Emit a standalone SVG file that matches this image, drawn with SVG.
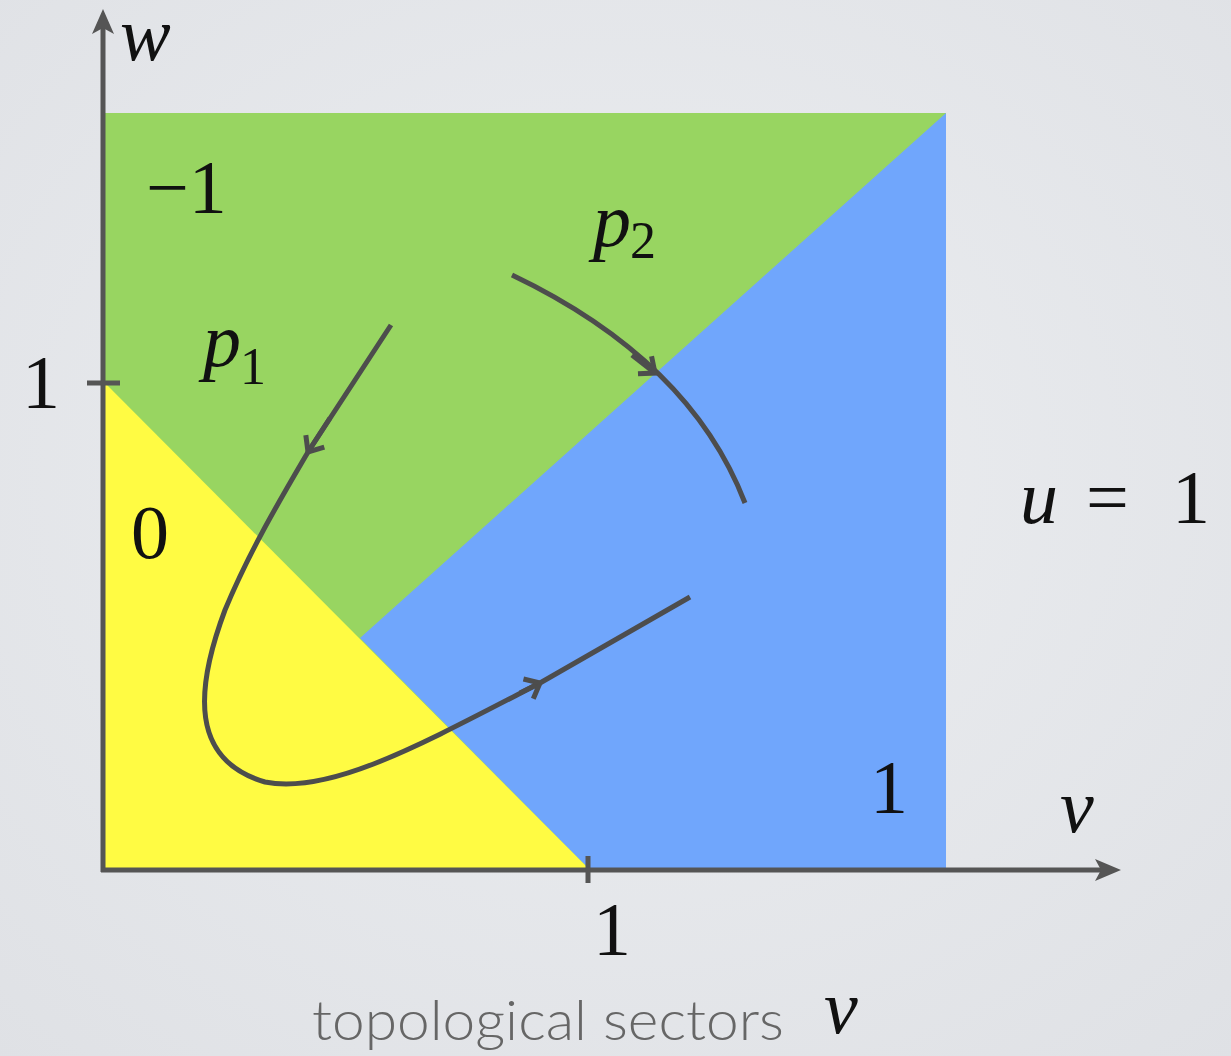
<svg xmlns="http://www.w3.org/2000/svg" width="1231" height="1056" viewBox="0 0 1231 1056">
<defs>
<radialGradient id="bg" cx="0.5" cy="0.45" r="0.75">
<stop offset="0" stop-color="#eceef1"/>
<stop offset="1" stop-color="#dfe1e5"/>
</radialGradient>
<marker id="chev" markerWidth="30" markerHeight="30" refX="15" refY="15" orient="auto" markerUnits="userSpaceOnUse" viewBox="0 0 30 30">
<path d="M2,4 L15,15 L2,26" fill="none" stroke="#4d4d4d" stroke-width="5"/>
</marker>
</defs>
<style>
.m{font-size:76px;fill:#111}
.mi{font-style:italic;font-size:76px;fill:#111}
.sub{font-size:52px;fill:#111}
.ax{stroke:#555;stroke-width:5;fill:none}
.cv{stroke:#4d4d4d;stroke-width:5;fill:none;stroke-linecap:butt}
.cap{font-weight:300;font-size:56px;fill:#666}
</style>
<rect width="1231" height="1056" fill="url(#bg)"/>
<g id="regions">
<rect id="green" x="105" y="113" width="841" height="755" fill="#98d561"/>
<polygon id="blue" points="946,113 946,868 588,868 360,638" fill="#70a6fc"/>
<polygon id="yellow" points="105,383 105,868 588,868" fill="#fffb43"/>
</g>
<g id="axes">
<line class="ax" x1="103" y1="872" x2="103" y2="22"/>
<path d="M103,9 L92,34 L103,28 L114,34 Z" fill="#555"/>
<line class="ax" x1="101" y1="870" x2="1105" y2="870"/>
<path d="M1121,870 L1095,859 L1101,870 L1095,881 Z" fill="#555"/>
<line class="ax" x1="87" y1="383" x2="120" y2="383"/>
<line class="ax" x1="588" y1="856" x2="588" y2="883"/>
</g>
<g id="connectors">
<path class="cv" d="M391,325 L308,452 C 280,500 250,550 225,610 C 195,690 190,760 265,782 C 330,795 420,745 540,683 L 690,597"/>
<path class="cv" d="M512,275 Q 690,360 745,503"/>
<path class="cv" d="M330,418 L308,452" marker-end="url(#chev)"/>
<path class="cv" d="M520,693 L540,683" marker-end="url(#chev)"/>
<path class="cv" d="M632,355 L655,373" marker-end="url(#chev)"/>
</g>
<g id="labels" font-family="'Liberation Serif', 'Times New Roman', 'DejaVu Serif', serif">
<text class="mi" x="120" y="60" font-size="70">w</text>
<text class="m" x="146" y="213">−1</text>
<text class="mi" x="593" y="246">p</text><text class="sub" x="630" y="258">2</text>
<text class="mi" x="203" y="366">p</text><text class="sub" x="240" y="384">1</text>
<text class="m" x="22" y="408">1</text>
<text class="m" x="131" y="558">0</text>
<text class="mi" x="1020" y="523">u</text><text class="m" x="1086" y="523" font-size="84">=</text><text class="m" x="1172" y="523">1</text>
<text class="m" x="870" y="813">1</text>
<text class="mi" x="1060" y="832">v</text>
<text class="m" x="593" y="955">1</text>
<text class="mi" x="824" y="1033">ν</text>
</g>
<g id="caption" font-family="Lato, 'Open Sans', sans-serif">
<text class="cap" x="312" y="1040" textLength="472" lengthAdjust="spacingAndGlyphs">topological sectors</text>
</g>
</svg>
